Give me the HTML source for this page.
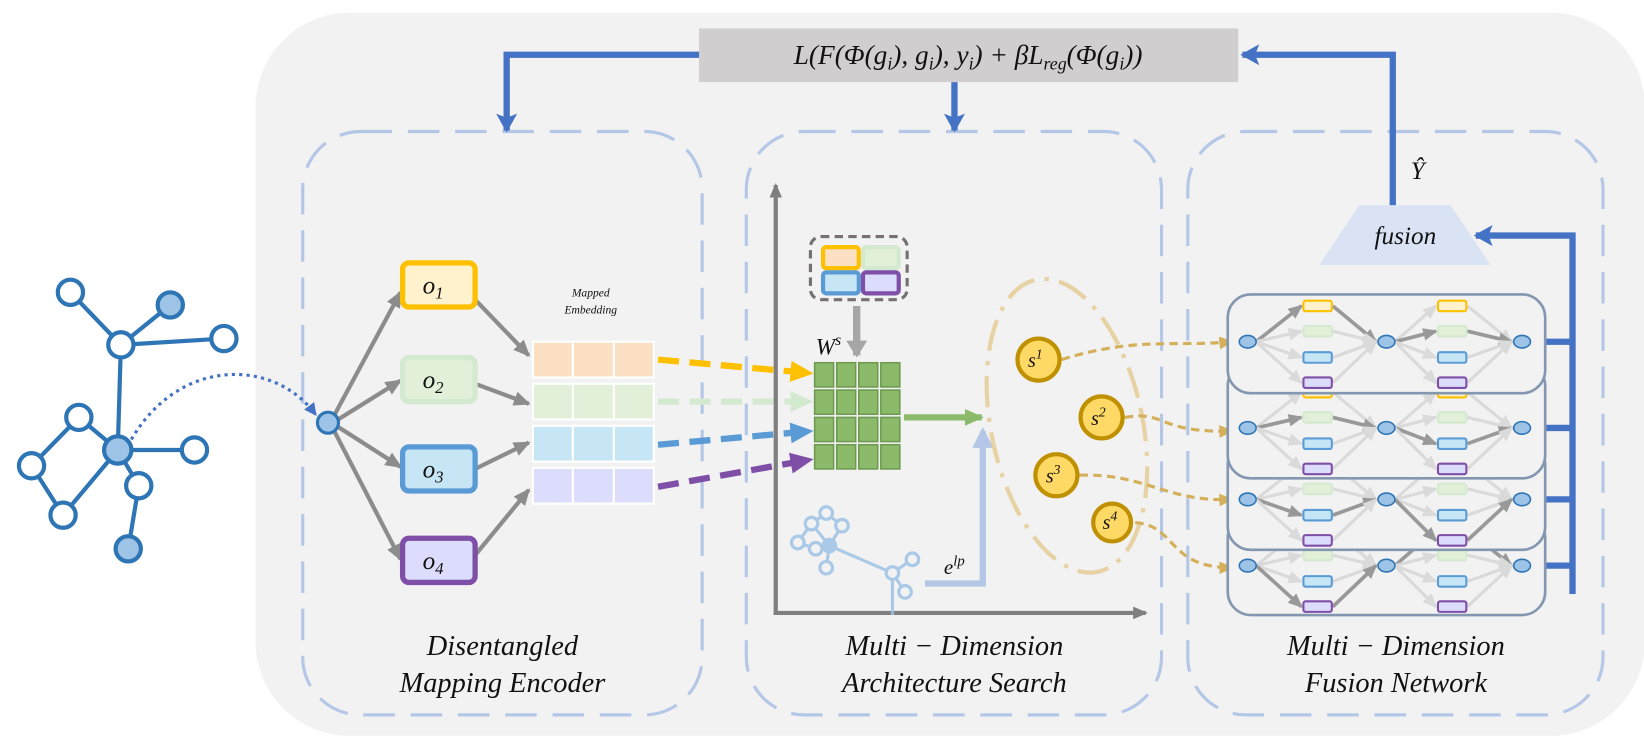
<!DOCTYPE html>
<html><head><meta charset="utf-8"><style>
html,body{margin:0;padding:0;background:#fff;}
svg{display:block;}
text{font-family:"Liberation Serif",serif;font-style:italic;fill:#111;}
</style></head><body>
<svg width="1644" height="736" viewBox="0 0 1564 700" xmlns="http://www.w3.org/2000/svg">
<defs>
<marker id="ag" markerUnits="userSpaceOnUse" markerWidth="20" markerHeight="20" refX="14" refY="8" orient="auto"><path d="M0,1 L16,8 L0,15 Z" fill="#8c8c8c"/></marker>
<marker id="agl" markerUnits="userSpaceOnUse" markerWidth="20" markerHeight="20" refX="12" refY="7" orient="auto"><path d="M0,1 L14,7 L0,13 Z" fill="#999"/></marker>
<marker id="agf" markerUnits="userSpaceOnUse" markerWidth="20" markerHeight="20" refX="12" refY="7" orient="auto"><path d="M0,1 L14,7 L0,13 Z" fill="#dadada"/></marker>
<marker id="ab" markerUnits="userSpaceOnUse" markerWidth="30" markerHeight="30" refX="18" refY="12" orient="auto"><path d="M2,2 L20,12 L2,22 L6,12 Z" fill="#4472c4"/></marker>
<marker id="ay" markerUnits="userSpaceOnUse" markerWidth="30" markerHeight="30" refX="20" refY="12" orient="auto"><path d="M0,2 L22,12 L0,22 Z" fill="#ffc000"/></marker>
<marker id="agr" markerUnits="userSpaceOnUse" markerWidth="30" markerHeight="30" refX="20" refY="12" orient="auto"><path d="M0,2 L22,12 L0,22 Z" fill="#d4ead0"/></marker>
<marker id="abl" markerUnits="userSpaceOnUse" markerWidth="30" markerHeight="30" refX="20" refY="12" orient="auto"><path d="M0,2 L22,12 L0,22 Z" fill="#5b9bd5"/></marker>
<marker id="ap" markerUnits="userSpaceOnUse" markerWidth="30" markerHeight="30" refX="20" refY="12" orient="auto"><path d="M0,2 L22,12 L0,22 Z" fill="#7f4fa8"/></marker>
<marker id="agn" markerUnits="userSpaceOnUse" markerWidth="30" markerHeight="30" refX="16" refY="10" orient="auto"><path d="M0,2 L18,10 L0,18 Z" fill="#8bbb6a"/></marker>
<marker id="alb" markerUnits="userSpaceOnUse" markerWidth="30" markerHeight="30" refX="16" refY="12" orient="auto"><path d="M0,2 L20,12 L0,22 Z" fill="#b4c7e7"/></marker>
<marker id="ao" markerUnits="userSpaceOnUse" markerWidth="20" markerHeight="20" refX="12" refY="7" orient="auto"><path d="M0,1 L14,7 L0,13 Z" fill="#d4b05a"/></marker>
<marker id="adb" markerUnits="userSpaceOnUse" markerWidth="20" markerHeight="20" refX="10" refY="6" orient="auto"><path d="M0,0 L12,6 L0,12 Z" fill="#4472c4"/></marker>
<marker id="aax" markerUnits="userSpaceOnUse" markerWidth="20" markerHeight="20" refX="12" refY="7" orient="auto"><path d="M0,1 L14,7 L0,13 Z" fill="#7f7f7f"/></marker>
<marker id="agd" markerUnits="userSpaceOnUse" markerWidth="30" markerHeight="30" refX="14" refY="12" orient="auto"><path d="M0,2 L16,12 L0,22 Z" fill="#a6a6a6"/></marker>
</defs>

<rect x="243" y="12" width="1322" height="688" rx="90" fill="#f2f2f2"/>

<g fill="none" stroke="#b4c7e7" stroke-width="3" stroke-dasharray="30 15">
<rect x="288" y="125" width="380" height="555" rx="55"/>
<rect x="710" y="125" width="395" height="555" rx="55"/>
<rect x="1130" y="125" width="395" height="555" rx="55"/>
</g>

<rect x="665" y="27" width="513" height="51" fill="#d0cece"/>
<text x="921" y="61" font-size="26" text-anchor="middle">L(F(Φ(g<tspan font-size="17" dy="5">i</tspan><tspan dy="-5">), g</tspan><tspan font-size="17" dy="5">i</tspan><tspan dy="-5">), y</tspan><tspan font-size="17" dy="5">i</tspan><tspan dy="-5">) + βL</tspan><tspan font-size="17" dy="5">reg</tspan><tspan dy="-5">(Φ(g</tspan><tspan font-size="17" dy="5">i</tspan><tspan dy="-5">))</tspan></text>

<g fill="none" stroke="#4472c4" stroke-width="6">
<path d="M665,52 H482 V124" marker-end="url(#ab)"/>
<path d="M908,78 V124" marker-end="url(#ab)"/>
<path d="M1325,196 V52 H1182" marker-end="url(#ab)"/>
<path d="M1470,325 H1496 M1470,407 H1496 M1470,475 H1496 M1470,538 H1496 M1496,565 V224 H1404" marker-end="url(#ab)"/>
</g>

<g stroke="#2e75b6" stroke-width="4" fill="none">
<path d="M67,278 L115,328 M162,290 L115,328 M115,328 L213,322 M115,328 L112,428 M75,397 L112,428 M75,397 L30,443 M30,443 L60,490 M60,490 L112,428 M112,428 L185,428 M112,428 L132,462 M132,462 L122,522"/>
</g>
<g stroke="#2e75b6" stroke-width="4">
<circle cx="67" cy="278" r="12" fill="#fff"/>
<circle cx="162" cy="290" r="12" fill="#9dc3e6"/>
<circle cx="115" cy="328" r="12" fill="#fff"/>
<circle cx="213" cy="322" r="12" fill="#fff"/>
<circle cx="75" cy="397" r="12" fill="#fff"/>
<circle cx="112" cy="428" r="13" fill="#9dc3e6"/>
<circle cx="30" cy="443" r="12" fill="#fff"/>
<circle cx="185" cy="428" r="12" fill="#fff"/>
<circle cx="132" cy="462" r="12" fill="#fff"/>
<circle cx="60" cy="490" r="12" fill="#fff"/>
<circle cx="122" cy="522" r="12" fill="#9dc3e6"/>
</g>
<path d="M125,418 C170,340 260,340 300,394" fill="none" stroke="#4472c4" stroke-width="3" stroke-dasharray="3 4" marker-end="url(#adb)"/>

<g stroke="#8c8c8c" stroke-width="4" fill="none">
<path d="M318,395 L381,278" marker-end="url(#ag)"/>
<path d="M320,400 L381,362" marker-end="url(#ag)"/>
<path d="M320,405 L381,444" marker-end="url(#ag)"/>
<path d="M318,410 L381,532" marker-end="url(#ag)"/>
<path d="M452,285 L503,338" marker-end="url(#ag)"/>
<path d="M452,365 L503,384" marker-end="url(#ag)"/>
<path d="M452,446 L503,421" marker-end="url(#ag)"/>
<path d="M452,528 L503,466" marker-end="url(#ag)"/>
</g>
<circle cx="312" cy="402" r="10" fill="#9dc3e6" stroke="#2e75b6" stroke-width="3"/>
<g stroke-width="5">
<rect x="383" y="250" width="69" height="42" rx="6" fill="#fff2cc" stroke="#ffc000"/>
<rect x="383" y="340" width="69" height="42" rx="6" fill="#e2f0d9" stroke="#d4ead0"/>
<rect x="383" y="425" width="69" height="42" rx="6" fill="#c6e6f5" stroke="#5b9bd5"/>
<rect x="383" y="512" width="69" height="42" rx="6" fill="#dcdcfc" stroke="#7f4fa8"/>
</g>
<g font-size="24">
<text x="402" y="279">o<tspan font-size="16" dy="5">1</tspan></text>
<text x="402" y="369">o<tspan font-size="16" dy="5">2</tspan></text>
<text x="402" y="454">o<tspan font-size="16" dy="5">3</tspan></text>
<text x="402" y="541">o<tspan font-size="16" dy="5">4</tspan></text>
</g>
<text x="562" y="282" font-size="11" text-anchor="middle">Mapped</text>
<text x="562" y="298" font-size="11" text-anchor="middle">Embedding</text>
<g stroke="#fff" stroke-width="2">
<g fill="#fbe0c3"><rect x="507" y="325" width="38" height="34"/><rect x="545" y="325" width="39" height="34"/><rect x="584" y="325" width="38" height="34"/></g>
<g fill="#e2f0d9"><rect x="507" y="365" width="38" height="34"/><rect x="545" y="365" width="39" height="34"/><rect x="584" y="365" width="38" height="34"/></g>
<g fill="#c6e6f5"><rect x="507" y="405" width="38" height="34"/><rect x="545" y="405" width="39" height="34"/><rect x="584" y="405" width="38" height="34"/></g>
<g fill="#dcdcfc"><rect x="507" y="445" width="38" height="34"/><rect x="545" y="445" width="39" height="34"/><rect x="584" y="445" width="38" height="34"/></g>
</g>
<g fill="none" stroke-width="6" stroke-dasharray="20 10">
<path d="M626,342 L772,355" stroke="#ffc000" marker-end="url(#ay)"/>
<path d="M626,382 L772,382" stroke="#d4ead0" marker-end="url(#agr)"/>
<path d="M626,423 L772,410" stroke="#5b9bd5" marker-end="url(#abl)"/>
<path d="M626,463 L772,437" stroke="#7f4fa8" marker-end="url(#ap)"/>
</g>

<g stroke="#7f7f7f" stroke-width="4" fill="none">
<path d="M738,585 V176" marker-end="url(#aax)"/>
<path d="M736,583 H1090" marker-end="url(#aax)"/>
</g>
<rect x="771" y="225" width="92" height="60" rx="10" fill="none" stroke="#767171" stroke-width="3" stroke-dasharray="8 5"/>
<g stroke-width="4">
<rect x="783" y="235" width="34" height="20" rx="3" fill="#fbe0c3" stroke="#ffc000"/>
<rect x="821" y="235" width="34" height="20" rx="3" fill="#e2f0d9" stroke="#d4ead0"/>
<rect x="783" y="259" width="34" height="20" rx="3" fill="#c6e6f5" stroke="#5b9bd5"/>
<rect x="821" y="259" width="34" height="20" rx="3" fill="#dcdcfc" stroke="#7f4fa8"/>
</g>
<path d="M815,291 V338" stroke="#a6a6a6" stroke-width="7" marker-end="url(#agd)"/>
<text x="776" y="337" font-size="22">W<tspan font-size="15" dy="-9">s</tspan></text>
<g fill="#8bbb6a" stroke="#6d9a4e" stroke-width="1.5">
<rect x="775" y="345" width="18" height="23"/><rect x="796" y="345" width="18" height="23"/><rect x="817" y="345" width="18" height="23"/><rect x="838" y="345" width="18" height="23"/>
<rect x="775" y="371" width="18" height="23"/><rect x="796" y="371" width="18" height="23"/><rect x="817" y="371" width="18" height="23"/><rect x="838" y="371" width="18" height="23"/>
<rect x="775" y="397" width="18" height="23"/><rect x="796" y="397" width="18" height="23"/><rect x="817" y="397" width="18" height="23"/><rect x="838" y="397" width="18" height="23"/>
<rect x="775" y="423" width="18" height="23"/><rect x="796" y="423" width="18" height="23"/><rect x="817" y="423" width="18" height="23"/><rect x="838" y="423" width="18" height="23"/>
</g>
<path d="M860,397 H934" stroke="#8bbb6a" stroke-width="6" marker-end="url(#agn)"/>
<path d="M880,555 H935 V410" fill="none" stroke="#b4c7e7" stroke-width="6" marker-end="url(#alb)"/>
<text x="898" y="546" font-size="20">e<tspan font-size="14" dy="-8">lp</tspan></text>
<g stroke="#9dc3e6" stroke-width="3" fill="none" opacity="0.85">
<path d="M786,488 L772,498 M786,488 L801,500 M772,498 L789,519 M801,500 L789,519 M759,516 L772,498 M759,516 L776,522 M776,522 L789,519 M789,519 L786,540 M789,519 L849,545 M849,545 L868,532 M849,545 L861,563 M849,545 L849,585"/>
<circle cx="786" cy="488" r="6" fill="#f2f2f2"/><circle cx="772" cy="498" r="6" fill="#f2f2f2"/><circle cx="801" cy="500" r="6" fill="#f2f2f2"/>
<circle cx="759" cy="516" r="6" fill="#f2f2f2"/><circle cx="776" cy="522" r="6" fill="#f2f2f2"/><circle cx="789" cy="519" r="6" fill="#9dc3e6"/>
<circle cx="786" cy="540" r="6" fill="#f2f2f2"/><circle cx="849" cy="545" r="6" fill="#f2f2f2"/><circle cx="868" cy="532" r="6" fill="#f2f2f2"/><circle cx="861" cy="563" r="6" fill="#f2f2f2"/>
</g>

<ellipse cx="1015" cy="405" rx="72" ry="142" transform="rotate(-12 1015 405)" fill="none" stroke="#e6d2a2" stroke-width="4" stroke-dasharray="30 10 4 10"/>
<g fill="none" stroke="#d4b05a" stroke-width="3" stroke-dasharray="8 5">
<path d="M1010,342 C1080,320 1120,330 1172,325" marker-end="url(#ao)"/>
<path d="M1070,397 C1110,390 1100,412 1172,410" marker-end="url(#ao)"/>
<path d="M1027,452 C1090,450 1110,478 1172,475" marker-end="url(#ao)"/>
<path d="M1080,497 C1120,500 1110,540 1172,540" marker-end="url(#ao)"/>
</g>
<g fill="#ffd966" stroke="#bf9000" stroke-width="4">
<circle cx="988" cy="342" r="20"/><circle cx="1048" cy="397" r="20"/><circle cx="1005" cy="452" r="20"/><circle cx="1058" cy="497" r="18"/>
</g>
<g font-size="19">
<text x="978" y="349">s<tspan font-size="13" dy="-8">1</tspan></text>
<text x="1038" y="404">s<tspan font-size="13" dy="-8">2</tspan></text>
<text x="995" y="459">s<tspan font-size="13" dy="-8">3</tspan></text>
<text x="1049" y="503">s<tspan font-size="13" dy="-8">4</tspan></text>
</g>

<polygon points="1293,195 1380,195 1418,252 1255,252" fill="#dae3f3"/>
<text x="1337" y="232" font-size="24" text-anchor="middle">fusion</text>
<text x="1342" y="170" font-size="24">Ŷ</text>

<g id="layers"></g>
<script>
(function(){
var ns="http://www.w3.org/2000/svg",g=document.getElementById('layers');
var L=[{top:490,bot:585,n:538,p:[3,0]},{top:420,bot:523,n:475,p:[2,3]},{top:345,bot:455,n:407,p:[1,2]},{top:280,bot:374,n:325,p:[0,1]}];
var cols=[["#fff2cc","#ffc000"],["#e2f0d9","#d4ead0"],["#c6e6f5","#5b9bd5"],["#dcdcfc","#7f4fa8"]];
var off=[-34,-10,15,39];
function el(t,a){var e=document.createElementNS(ns,t);for(var k in a)e.setAttribute(k,a[k]);g.appendChild(e);return e;}
L.forEach(function(l){
 el('rect',{x:1168,y:l.top,width:302,height:l.bot-l.top,rx:22,fill:'#f2f2f2',stroke:'#8497b0','stroke-width':2.5});
 var nx=[1187,1319,1448],bx=[1240,1368];
 for(var s=0;s<2;s++){for(var r=0;r<4;r++){var y=l.n+off[r],hl=(l.p[s]==r);
  var c=hl?'#999':'#dadada',m=hl?'url(#agl)':'url(#agf)',w=hl?3.5:3;
  el('line',{x1:nx[s]+8,y1:l.n,x2:bx[s]-2,y2:y,stroke:c,'stroke-width':w,'marker-end':m});
  el('line',{x1:bx[s]+28,y1:y,x2:nx[s+1]-10,y2:l.n,stroke:c,'stroke-width':w,'marker-end':m});
 }}
 for(var s=0;s<2;s++)for(var r=0;r<4;r++){el('rect',{x:bx[s],y:l.n+off[r]-5,width:27,height:10,rx:2,fill:cols[r][0],stroke:cols[r][1],'stroke-width':2});}
 nx.forEach(function(x){el('ellipse',{cx:x,cy:l.n,rx:8,ry:6,fill:'#9dc3e6',stroke:'#2e75b6','stroke-width':1.5});});
});
})();
</script>

<g font-size="27" text-anchor="middle">
<text x="478" y="623">Disentangled</text>
<text x="478" y="658">Mapping Encoder</text>
<text x="908" y="623">Multi − Dimension</text>
<text x="908" y="658">Architecture Search</text>
<text x="1328" y="623">Multi − Dimension</text>
<text x="1328" y="658">Fusion Network</text>
</g>
</svg>
</body></html>
